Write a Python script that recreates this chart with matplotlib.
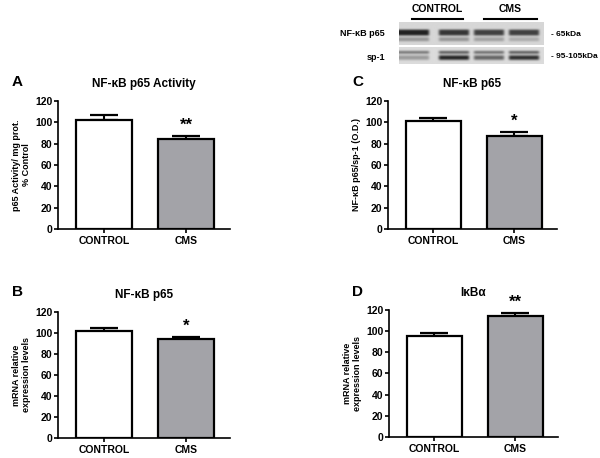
import matplotlib
matplotlib.use('Agg')
import matplotlib.pyplot as plt
import numpy as np

plt.rcParams['font.family'] = ['Liberation Sans', 'DejaVu Sans']
plt.rcParams['font.weight'] = 'bold'

groups = ['CONTROL', 'CMS']
# panel values (mean, sem)
act_mean = [102.5, 84.0]
act_err = [4.5, 3.5]
mrna_p65_mean = [102.0, 94.5]
mrna_p65_err = [2.5, 2.0]
od_mean = [101.0, 87.5]
od_err = [3.0, 3.5]
ikba_mean = [95.0, 114.5]
ikba_err = [3.5, 2.5]

# blot band intensities per lane (0 = background, 1 = black)
p65_main = [0.85, 0.75, 0.7, 0.7]
p65_faint = [0.3, 0.3, 0.25, 0.2]
sp1_upper = [0.6, 0.75, 0.65, 0.75]
sp1_lower = [0.3, 0.85, 0.55, 0.8]

fig = plt.figure(figsize=(6, 4.58), dpi=100)

bar_colors = ['white', '#a3a3a8']


def panel(rect, means, errs, title, ylabel, stars):
    ax = fig.add_axes(rect)
    x = [0, 1]
    ax.bar(x, means, width=0.68, color=bar_colors, edgecolor='black',
           linewidth=1.6, zorder=2)
    ax.errorbar(x, means, yerr=[[0, 0], errs], fmt='none', ecolor='black',
                elinewidth=1.5, capsize=10, capthick=1.6, zorder=1)
    ax.set_xlim(-0.56, 1.53)
    ax.set_ylim(0, 120)
    ax.set_yticks(range(0, 121, 20))
    ax.set_xticks(x)
    ax.set_xticklabels(groups, fontsize=7.5, fontweight='bold')
    ax.tick_params(axis='y', labelsize=7.5, length=3, width=1.2, pad=1)
    ax.tick_params(axis='x', length=3, width=1.2, pad=2)
    for s in ['top', 'right']:
        ax.spines[s].set_visible(False)
    for s in ['left', 'bottom']:
        ax.spines[s].set_linewidth(1.2)
    ax.set_ylabel(ylabel, fontsize=6.5, fontweight='bold', labelpad=3,
                  linespacing=1.1)
    ax.set_title(title, fontsize=8.5, fontweight='bold', pad=10)
    ax.text(1, means[1] + errs[1] + 3, stars, ha='center', va='bottom',
            fontsize=12, fontweight='bold')
    return ax


panel([0.0967, 0.5, 0.2867, 0.2795], act_mean, act_err,
      'NF-\u03baB p65 Activity', 'p65 Activity/ mg prot.\n% Control', '**')
panel([0.0967, 0.0437, 0.2867, 0.2751], mrna_p65_mean, mrna_p65_err,
      'NF-\u03baB p65', 'mRNA relative\nexpression levels', '*')
panel([0.6467, 0.5, 0.2817, 0.2795], od_mean, od_err,
      'NF-\u03baB p65', 'NF-\u03baB p65/sp-1 (O.D.)', '*')
panel([0.6483, 0.0459, 0.2817, 0.2773], ikba_mean, ikba_err,
      'I\u03baB\u03b1', 'mRNA relative\nexpression levels', '**')

for lbl, (px, py) in zip(['A', 'B', 'C', 'D'],
                         [(12, 82), (12, 292), (352, 82), (352, 292)]):
    fig.text(px / 600, 1 - py / 458, lbl, fontsize=11, fontweight='bold',
             va='center', ha='left')

# western blot, pixel coordinates
bx = fig.add_axes([0, 0, 1, 1], zorder=-1)
bx.set_xlim(0, 600)
bx.set_ylim(458, 0)
bx.axis('off')
lanes = [415, 455, 490, 525]


def strip(y0, y1, bands, bg):
    # paint bands into a coarse grid (2.5 px per column, ~2 px per row)
    ncol = 58
    nrow = int(round((y1 - y0) / 2))
    img = np.full((nrow, ncol), bg)
    for rows, vals in bands:
        for cx, v in zip(lanes, vals):
            c0 = int((cx - 14 - 399) / 2.5)
            c1 = int((cx + 14 - 399) / 2.5)
            img[rows[0]:rows[1], c0:c1] = bg * (1 - v)
    bx.imshow(img, cmap='gray', vmin=0, vmax=1, extent=(399, 544, y1, y0),
              interpolation='bicubic', aspect='auto')


strip(22, 45, [((4, 7), p65_main), ((8, 10), p65_faint)], 0.84)
strip(47, 64, [((2, 3), sp1_upper), ((4, 6), sp1_lower)], 0.86)
bx.set_xlim(0, 600)
bx.set_ylim(458, 0)
bx.plot([412, 463], [19, 19], color='black', lw=1.5)
bx.plot([484, 537], [19, 19], color='black', lw=1.5)
bx.text(437, 9, 'CONTROL', ha='center', va='center', fontsize=7.5,
        fontweight='bold')
bx.text(510, 9, 'CMS', ha='center', va='center', fontsize=7.5,
        fontweight='bold')
bx.text(385, 34, 'NF-\u03baB p65', ha='right', va='center', fontsize=6.5,
        fontweight='bold')
bx.text(385, 57, 'sp-1', ha='right', va='center', fontsize=6.5,
        fontweight='bold')
bx.text(551, 35, '- 65kDa', ha='left', va='center', fontsize=6,
        fontweight='bold')
bx.text(551, 57, '- 95-105kDa', ha='left', va='center', fontsize=6,
        fontweight='bold')

fig.savefig('out.png', dpi=100)
